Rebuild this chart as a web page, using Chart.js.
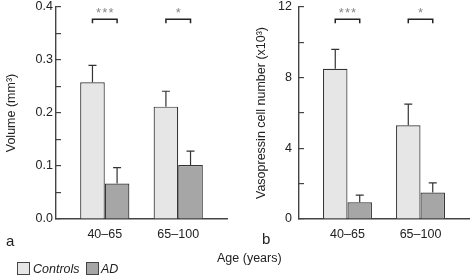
<!DOCTYPE html>
<html>
<head>
<meta charset="utf-8">
<script src="https://cdn.jsdelivr.net/npm/chart.js@4/dist/chart.umd.min.js"></script>
<style>
  body { margin: 0; background: #fff; font-family: "Liberation Sans", Arial, sans-serif; color: #222; }
  #wrap { position: relative; width: 470px; height: 277px; overflow: hidden; }
  .box { position: absolute; }
  .txt { position: absolute; white-space: nowrap; line-height: 1; }
  .sw { position: absolute; width: 11px; height: 11px; border: 1px solid #444; }
</style>
</head>
<body>
<div id="wrap">
  <div class="box" style="left:0;top:0;width:240px;height:250px"><canvas id="chartA"></canvas></div>
  <div class="box" style="left:250px;top:0;width:220px;height:250px"><canvas id="chartB"></canvas></div>
  <div class="txt" style="left:6px;top:233px;font-size:15px">a</div>
  <div class="txt" style="left:262px;top:231px;font-size:15px">b</div>
  <div class="txt" style="left:217px;top:252px;font-size:12.5px">Age (years)</div>
  <div class="sw" style="left:17px;top:262px;background:#e6e6e6"></div>
  <div class="txt" style="left:33px;top:263px;font-size:12.5px;font-style:italic">Controls</div>
  <div class="sw" style="left:86px;top:262px;background:#a6a6a6"></div>
  <div class="txt" style="left:101px;top:263px;font-size:12.5px;font-style:italic">AD</div>
</div>
<script>
// --- Data ---
const ageGroups = ['40\u201365', '65\u2013100'];
const seriesNames = ['Controls', 'AD'];

const volumeControls = [0.258, 0.212];
const volumeControlsSem = [0.032, 0.029];
const volumeAD = [0.067, 0.102];
const volumeADSem = [0.030, 0.026];

const cellsControls = [8.5, 5.3];
const cellsControlsSem = [1.1, 1.2];
const cellsAD = [0.95, 1.5];
const cellsADSem = [0.4, 0.55];

const sigLabels = ['***', '*'];

const controlsColor = '#e6e6e6';
const adColor = '#a6a6a6';
const inkColor = '#333';
const axisColor = '#444';
const fontFamily = '"Liberation Sans", Arial, sans-serif';

// error bars (upward only) and significance brackets
const extrasPlugin = {
    id: 'extras',
    afterDatasetsDraw(chart, args, opts) {
        const ctx = chart.ctx;
        const yScale = chart.scales.y;
        ctx.save();
        ctx.strokeStyle = inkColor;
        ctx.lineWidth = 1.2;
        chart.data.datasets.forEach((ds, i) => {
            const meta = chart.getDatasetMeta(i);
            meta.data.forEach((bar, j) => {
                const top = yScale.getPixelForValue(ds.values[j] + ds.sem[j]);
                ctx.beginPath();
                ctx.moveTo(bar.x, bar.y);
                ctx.lineTo(bar.x, top);
                ctx.moveTo(bar.x - 4, top);
                ctx.lineTo(bar.x + 4, top);
                ctx.stroke();
            });
        });
        // brackets
        const m0 = chart.getDatasetMeta(0);
        const m1 = chart.getDatasetMeta(1);
        const by = yScale.getPixelForValue(opts.bracketY);
        ctx.lineWidth = 1.5;
        ctx.strokeStyle = '#222';
        sigLabels.forEach((lbl, j) => {
            const x1 = m0.data[j].x;
            const x2 = m1.data[j].x;
            ctx.beginPath();
            ctx.moveTo(x1, by + 4);
            ctx.lineTo(x1, by);
            ctx.lineTo(x2, by);
            ctx.lineTo(x2, by + 4);
            ctx.stroke();
            ctx.fillStyle = '#888';
            ctx.font = '13px ' + fontFamily;
            ctx.textAlign = 'center';
            ctx.textBaseline = 'middle';
            ctx.fillText(lbl.split('').join('\u200a'), (x1 + x2) / 2, by - 6);
        });
        ctx.restore();
    }
};

function makeData(controls, controlsSem, ad, adSem) {
    return {
        datasets: [
            {
                label: seriesNames[0],
                data: controls.map((v, i) => ({ x: i + 1, y: v })),
                values: controls,
                sem: controlsSem,
                backgroundColor: controlsColor,
                borderColor: inkColor,
                borderWidth: 1.2
            },
            {
                label: seriesNames[1],
                data: ad.map((v, i) => ({ x: i + 1, y: v })),
                values: ad,
                sem: adSem,
                backgroundColor: adColor,
                borderColor: inkColor,
                borderWidth: 1.2
            }
        ]
    };
}

function makeChart(canvasId, data, yOpts) {
    return new Chart(document.getElementById(canvasId), {
        type: 'bar',
        data: data,
        plugins: [extrasPlugin],
        options: {
            responsive: true,
            maintainAspectRatio: false,
            animation: false,
            categoryPercentage: 0.67,
            barPercentage: 1.0,
            layout: { padding: { left: 0, top: 7, right: yOpts.padRight, bottom: 0 } },
            plugins: {
                legend: { display: false },
                tooltip: { enabled: false },
                extras: { bracketY: yOpts.bracketY }
            },
            scales: {
                x: {
                    type: 'linear',
                    offset: false,
                    min: 0.336,
                    max: 2.664,
                    afterBuildTicks: (s) => { s.ticks = [{ value: 1 }, { value: 2 }]; },
                    afterFit: (s) => { s.height = 31; s.paddingLeft = 0; s.paddingRight = 0; },
                    grid: { display: false },
                    border: { display: true, color: axisColor, width: 1.4 },
                    ticks: {
                        autoSkip: false,
                        maxRotation: 0,
                        padding: 0,
                        color: '#222',
                        font: { family: fontFamily, size: 12.5 },
                        callback: (v) => ageGroups[v - 1] || ''
                    }
                },
                y: {
                    min: 0,
                    max: yOpts.max,
                    afterBuildTicks: (s) => {
                        const t = [];
                        for (let k = 0; k <= yOpts.max / yOpts.minor + 0.01; k++) t.push({ value: k * yOpts.minor });
                        s.ticks = t;
                    },
                    afterFit: (s) => { s.width = yOpts.axisWidth; s.paddingTop = 0; s.paddingBottom = 0; },
                    grid: { display: true, drawOnChartArea: false, drawTicks: true, tickLength: -5, color: axisColor, lineWidth: 1.2 },
                    border: { display: true, color: axisColor, width: 1.4 },
                    ticks: {
                        padding: yOpts.labelGap + 5,
                        color: '#222',
                        font: { family: fontFamily, size: 12.5 },
                        callback: (v, i) => (i % 2 === 0 ? yOpts.fmt(v) : '')
                    },
                    title: {
                        display: true,
                        text: yOpts.title,
                        color: '#222',
                        font: { family: fontFamily, size: 12.5 },
                        padding: { top: 4, bottom: 4 }
                    }
                }
            }
        }
    });
}

makeChart('chartA', makeData(volumeControls, volumeControlsSem, volumeAD, volumeADSem), {
    max: 0.4, minor: 0.05, axisWidth: 56, padRight: 13, labelGap: 3, bracketY: 0.377,
    title: 'Volume (mm\u00b3)', fmt: (v) => v.toFixed(1)
});

makeChart('chartB', makeData(cellsControls, cellsControlsSem, cellsAD, cellsADSem), {
    max: 12, minor: 2, axisWidth: 49, padRight: 1, labelGap: 7, bracketY: 11.3,
    title: 'Vasopressin cell number (x10\u00b3)', fmt: (v) => String(Math.round(v))
});
</script>
</body>
</html>
